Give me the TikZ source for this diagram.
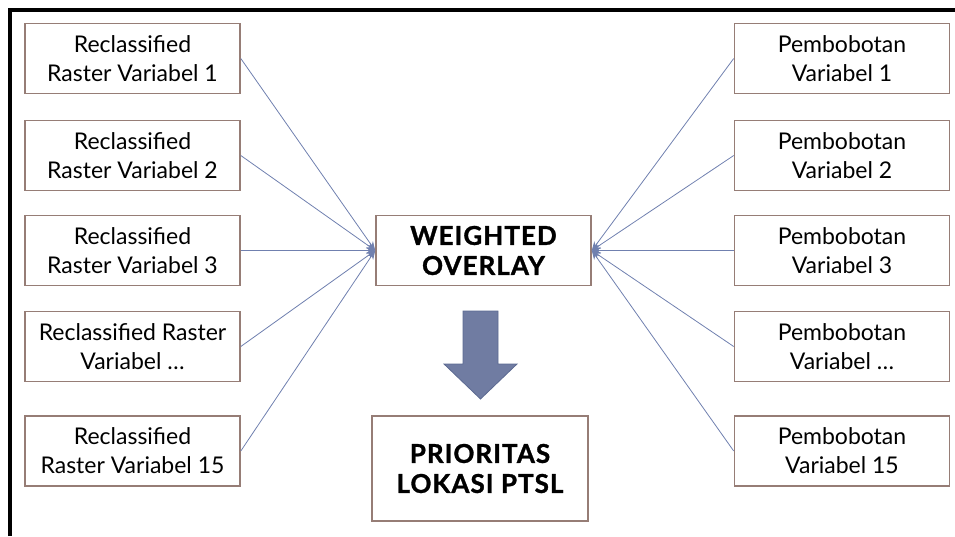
\documentclass[tikz,border=0pt]{standalone}
\usepackage{fontspec}
\setmainfont{Lato}
\usepackage{tikz}
\usetikzlibrary{arrows.meta, positioning}
\definecolor{boxline}{RGB}{150,125,118}
\definecolor{linkblue}{RGB}{112,128,175}
\definecolor{arrowfill}{RGB}{112,124,162}
\definecolor{arrowedge}{RGB}{92,106,145}
\tikzset{>=Stealth}
\tikzset{
  varbox/.style={draw=boxline, line width=1.6pt, fill=white, minimum width=215pt,
    minimum height=70pt, align=center, inner sep=2pt,
    font=\fontsize{23}{29}\selectfont},
  mainbox/.style={varbox, font=\bfseries\fontsize{26}{30}\selectfont\addfontfeatures{LetterSpace=4,FakeBold=1.2}},
  link/.style={draw=linkblue, line width=0.8pt, -{Stealth[length=9pt,width=7pt]}}
}

\begin{document}
\begin{tikzpicture}[x=1pt, y=-1pt]
  \useasboundingbox (0,0) rectangle (955,536);
  % Frame
  \draw[line width=4pt] (10,536) -- (10,10) -- (955,10);

  % Center boxes
  \node[mainbox] (wo) at (483.5,250.5) {WEIGHTED\\OVERLAY};
  \node[mainbox, minimum width=216pt, minimum height=105pt] (prio) at (480,468.5) {PRIORITAS\\LOKASI PTSL};

  % Left boxes (reclassified rasters)
  \foreach \n/\y/\txt in {1/58.5/{Reclassified\\Raster Variabel 1},
                          2/155.5/{Reclassified\\Raster Variabel 2},
                          3/250.5/{Reclassified\\Raster Variabel 3},
                          4/346.5/{Reclassified Raster\\Variabel \ldots},
                          5/451/{Reclassified\\Raster Variabel 15}} {
    \node[varbox] (L\n) at (132.5,\y) {\txt};
    \draw[link] (L\n.east) -- (wo.west);
  }

  % Right boxes (weights)
  \foreach \n/\y/\txt in {1/58.5/{Pembobotan\\Variabel 1},
                          2/155.5/{Pembobotan\\Variabel 2},
                          3/250.5/{Pembobotan\\Variabel 3},
                          4/346.5/{Pembobotan\\Variabel \ldots},
                          5/451/{Pembobotan\\Variabel 15}} {
    \node[varbox] (R\n) at (842,\y) {\txt};
    \draw[link] (R\n.west) -- (wo.east);
  }

  % Block arrow down
  \draw[draw=arrowedge, fill=arrowfill, line width=0.8pt]
    (463,311) -- (498,311) -- (498,364) -- (517,364) -- (480.5,399)
    -- (444,364) -- (463,364) -- cycle;
\end{tikzpicture}
\end{document}
